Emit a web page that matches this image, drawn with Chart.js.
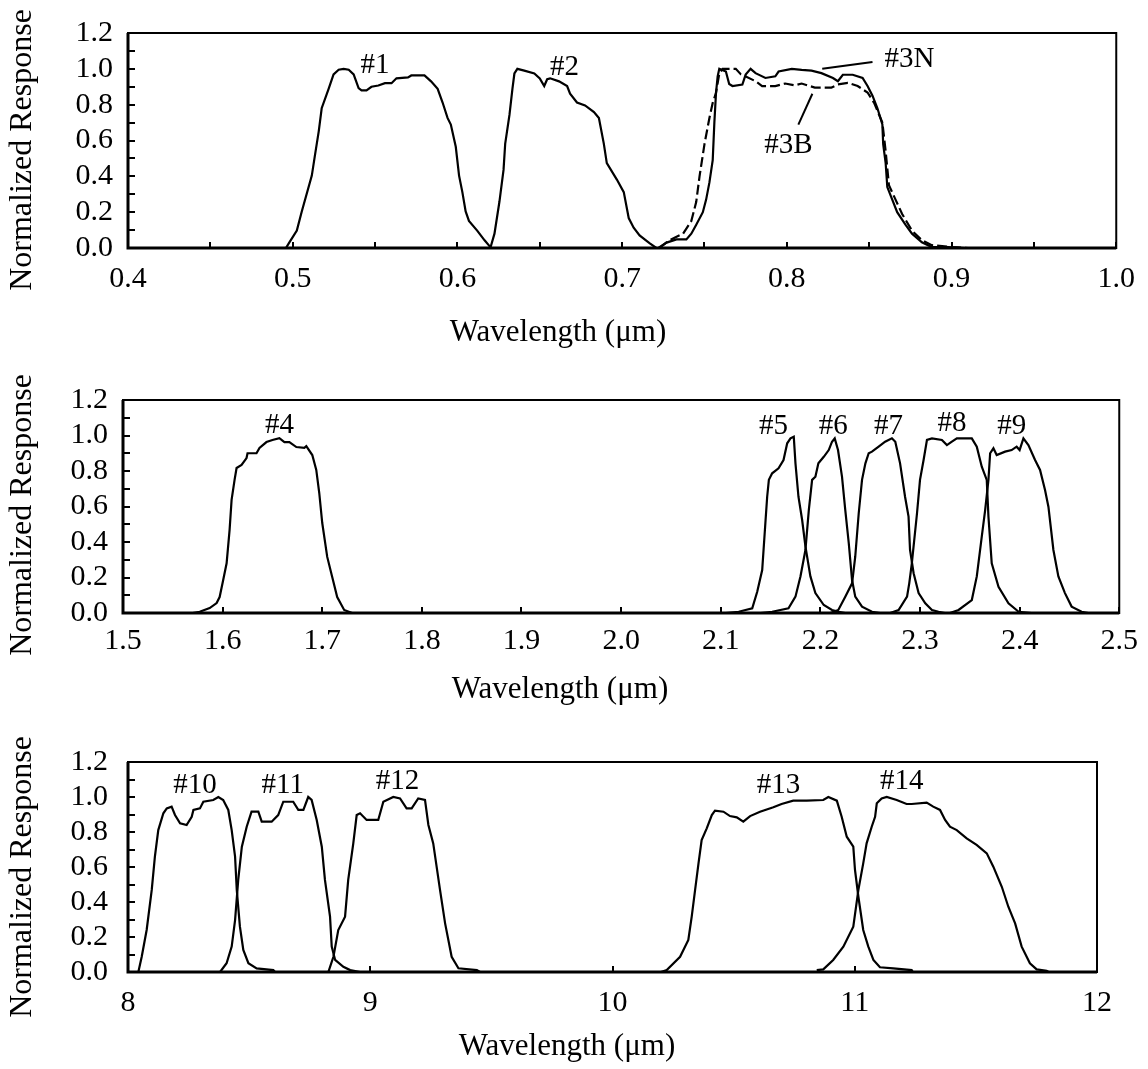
<!DOCTYPE html>
<html>
<head>
<meta charset="utf-8">
<script src="https://cdn.jsdelivr.net/npm/chart.js@4.4.0/dist/chart.umd.min.js"></script>
<style>
  body { margin: 0; background: #fff; }
  #wrap { position: relative; width: 1148px; height: 1069px; }
  canvas { position: absolute; left: 0; }
</style>
</head>
<body>
<div id="wrap">
  <canvas id="c1" width="1148" height="360" style="top:0"></canvas>
  <canvas id="c2" width="1148" height="360" style="top:360px"></canvas>
  <canvas id="c3" width="1148" height="349" style="top:720px"></canvas>
</div>
<script>
// Band responses, [wavelength (um), normalized response]

// VNIR
const band1 = [[0.4959,0],[0.4977,0.027],[0.5025,0.097],[0.5055,0.204],[0.5116,0.404],[0.5134,0.511],[0.5158,0.651],[0.5176,0.78],[0.5218,0.888],[0.5248,0.969],[0.5279,0.995],[0.5309,1.0],[0.534,0.995],[0.537,0.969],[0.540,0.893],[0.5418,0.88],[0.5448,0.88],[0.5478,0.90],[0.552,0.907],[0.556,0.92],[0.560,0.92],[0.563,0.947],[0.570,0.952],[0.572,0.963],[0.580,0.963],[0.584,0.93],[0.588,0.888],[0.591,0.812],[0.594,0.726],[0.596,0.689],[0.599,0.565],[0.601,0.404],[0.603,0.312],[0.605,0.204],[0.607,0.151],[0.612,0.097],[0.6165,0.043],[0.620,0.005]];
const band2 = [[0.620,0],[0.6225,0.08],[0.6255,0.258],[0.628,0.436],[0.629,0.581],[0.6316,0.743],[0.6334,0.888],[0.6346,0.974],[0.6364,1.0],[0.6406,0.99],[0.6467,0.974],[0.650,0.947],[0.6527,0.904],[0.6545,0.942],[0.6563,0.947],[0.6617,0.93],[0.6666,0.904],[0.6684,0.861],[0.6726,0.812],[0.6775,0.796],[0.6829,0.759],[0.6859,0.726],[0.6889,0.581],[0.6907,0.474],[0.6968,0.382],[0.701,0.312],[0.704,0.167],[0.707,0.113],[0.7106,0.07],[0.7166,0.027],[0.7208,0]];
const band3N = [[0.722,0],[0.727,0.03],[0.733,0.048],[0.739,0.048],[0.742,0.08],[0.745,0.13],[0.749,0.2],[0.751,0.27],[0.753,0.366],[0.755,0.49],[0.756,0.7],[0.757,0.866],[0.758,0.958],[0.759,1.0],[0.763,0.985],[0.765,0.915],[0.767,0.904],[0.773,0.912],[0.775,0.968],[0.778,1.0],[0.781,0.976],[0.787,0.949],[0.793,0.958],[0.795,0.985],[0.803,1.0],[0.809,0.994],[0.815,0.99],[0.821,0.976],[0.828,0.949],[0.831,0.931],[0.834,0.967],[0.840,0.967],[0.846,0.949],[0.849,0.904],[0.852,0.85],[0.855,0.78],[0.858,0.69],[0.8585,0.58],[0.86,0.474],[0.861,0.34],[0.864,0.27],[0.867,0.2],[0.872,0.13],[0.876,0.08],[0.882,0.032],[0.888,0.005],[0.898,0.005],[0.908,0]];
const band3B = [[0.7226,0],[0.7286,0.043],[0.737,0.08],[0.742,0.15],[0.745,0.258],[0.747,0.40],[0.750,0.58],[0.753,0.726],[0.755,0.81],[0.757,0.866],[0.759,0.974],[0.761,1.0],[0.769,1.0],[0.772,0.97],[0.781,0.931],[0.785,0.904],[0.793,0.904],[0.799,0.918],[0.805,0.908],[0.809,0.918],[0.817,0.895],[0.827,0.895],[0.831,0.913],[0.837,0.922],[0.843,0.904],[0.849,0.868],[0.853,0.81],[0.858,0.70],[0.86,0.54],[0.862,0.35],[0.866,0.27],[0.87,0.19],[0.876,0.097],[0.882,0.043],[0.888,0.016],[0.9,0.005],[0.91,0]];

// SWIR
const band4 = [[1.57,0],[1.577,0.007],[1.587,0.028],[1.594,0.056],[1.597,0.09],[1.6,0.17],[1.604,0.28],[1.607,0.468],[1.609,0.637],[1.612,0.75],[1.614,0.817],[1.619,0.834],[1.624,0.873],[1.625,0.9],[1.634,0.9],[1.637,0.93],[1.644,0.963],[1.65,0.975],[1.657,0.985],[1.662,0.963],[1.667,0.963],[1.674,0.935],[1.682,0.93],[1.684,0.94],[1.69,0.89],[1.694,0.806],[1.697,0.676],[1.7,0.507],[1.705,0.316],[1.71,0.203],[1.715,0.09],[1.722,0.017],[1.73,0]];
const band5 = [[2.105,0],[2.118,0.007],[2.1316,0.026],[2.1366,0.12],[2.1416,0.242],[2.145,0.524],[2.1466,0.655],[2.1483,0.75],[2.1516,0.787],[2.158,0.815],[2.163,0.862],[2.1667,0.956],[2.17,0.984],[2.1733,0.993],[2.175,0.843],[2.178,0.655],[2.1817,0.524],[2.185,0.375],[2.19,0.206],[2.195,0.112],[2.2034,0.045],[2.2117,0.017],[2.2184,0.007],[2.225,0]];
const band6 = [[2.14,0],[2.1516,0.007],[2.168,0.026],[2.175,0.092],[2.18,0.206],[2.185,0.355],[2.1884,0.58],[2.1917,0.75],[2.195,0.768],[2.198,0.843],[2.2034,0.88],[2.2084,0.918],[2.2117,0.965],[2.2144,0.984],[2.2177,0.918],[2.2217,0.768],[2.225,0.58],[2.2285,0.393],[2.2318,0.186],[2.235,0.092],[2.2418,0.036],[2.2518,0.007],[2.26,0]];
const band7 = [[2.21,0],[2.218,0.017],[2.225,0.092],[2.2318,0.167],[2.235,0.317],[2.2385,0.562],[2.2418,0.75],[2.2452,0.843],[2.2485,0.9],[2.2518,0.909],[2.2585,0.937],[2.265,0.965],[2.2718,0.984],[2.2752,0.965],[2.28,0.843],[2.285,0.655],[2.2885,0.543],[2.29,0.355],[2.2936,0.224],[2.2986,0.112],[2.3053,0.055],[2.312,0.017],[2.3186,0.007],[2.325,0]];
const band8 = [[2.27,0],[2.2785,0.017],[2.287,0.092],[2.2892,0.167],[2.2918,0.28],[2.297,0.562],[2.3,0.75],[2.3036,0.862],[2.307,0.975],[2.312,0.984],[2.322,0.975],[2.327,0.946],[2.332,0.965],[2.337,0.984],[2.352,0.984],[2.357,0.937],[2.362,0.824],[2.367,0.75],[2.3687,0.543],[2.372,0.28],[2.3788,0.148],[2.3888,0.055],[2.399,0.007],[2.412,0]];
const band9 = [[2.33,0],[2.3387,0.017],[2.352,0.073],[2.357,0.206],[2.362,0.43],[2.3654,0.58],[2.3687,0.75],[2.3704,0.9],[2.3737,0.928],[2.377,0.89],[2.3854,0.909],[2.392,0.918],[2.397,0.937],[2.4,0.918],[2.4038,0.984],[2.4088,0.946],[2.4155,0.862],[2.4205,0.806],[2.4255,0.693],[2.4289,0.599],[2.4339,0.355],[2.4389,0.206],[2.4455,0.112],[2.4522,0.036],[2.4622,0.007],[2.469,0]];

// TIR
const band10 = [[8.0427,0],[8.0566,0.087],[8.077,0.24],[8.098,0.469],[8.111,0.659],[8.125,0.811],[8.146,0.907],[8.16,0.935],[8.18,0.945],[8.194,0.897],[8.215,0.85],[8.242,0.84],[8.263,0.887],[8.27,0.926],[8.297,0.935],[8.311,0.973],[8.352,0.983],[8.373,1.0],[8.393,0.983],[8.414,0.926],[8.428,0.811],[8.442,0.659],[8.449,0.469],[8.462,0.259],[8.476,0.126],[8.497,0.05],[8.531,0.021],[8.6,0.011],[8.607,0]];
const band11 = [[8.38,0],[8.407,0.05],[8.428,0.145],[8.442,0.297],[8.455,0.526],[8.47,0.716],[8.49,0.83],[8.51,0.916],[8.538,0.916],[8.552,0.859],[8.593,0.859],[8.62,0.897],[8.641,0.973],[8.682,0.973],[8.703,0.926],[8.724,0.926],[8.744,1.0],[8.758,0.983],[8.779,0.869],[8.8,0.716],[8.813,0.526],[8.834,0.316],[8.841,0.145],[8.855,0.069],[8.889,0.03],[8.917,0.011],[8.958,0]];
const band12 = [[8.827,0],[8.848,0.087],[8.868,0.24],[8.896,0.316],[8.909,0.526],[8.93,0.735],[8.944,0.897],[8.958,0.907],[8.985,0.869],[9.033,0.869],[9.054,0.973],[9.095,1.0],[9.123,0.992],[9.15,0.935],[9.171,0.935],[9.198,0.992],[9.226,0.983],[9.24,0.84],[9.26,0.735],[9.288,0.469],[9.309,0.278],[9.336,0.087],[9.364,0.021],[9.44,0.011],[9.453,0]];
const band13 = [[10.2,0],[10.224,0.011],[10.279,0.087],[10.313,0.183],[10.327,0.316],[10.341,0.469],[10.355,0.621],[10.368,0.754],[10.389,0.821],[10.41,0.897],[10.423,0.922],[10.458,0.916],[10.485,0.891],[10.513,0.884],[10.54,0.859],[10.568,0.891],[10.609,0.916],[10.664,0.941],[10.698,0.96],[10.746,0.979],[10.802,0.979],[10.87,0.983],[10.891,1.0],[10.926,0.979],[10.946,0.887],[10.967,0.773],[10.994,0.716],[11.001,0.583],[11.015,0.43],[11.035,0.24],[11.056,0.145],[11.077,0.069],[11.104,0.027],[11.159,0.021],[11.235,0.011],[11.24,0]];
const band14 = [[10.843,0.011],[10.87,0.015],[10.911,0.069],[10.953,0.145],[10.994,0.259],[11.015,0.469],[11.035,0.621],[11.049,0.735],[11.07,0.83],[11.084,0.887],[11.091,0.964],[11.111,0.992],[11.132,1.0],[11.173,0.983],[11.214,0.96],[11.235,0.96],[11.297,0.968],[11.324,0.945],[11.352,0.926],[11.373,0.869],[11.393,0.83],[11.421,0.811],[11.462,0.764],[11.503,0.726],[11.545,0.678],[11.572,0.602],[11.607,0.487],[11.634,0.373],[11.662,0.278],[11.689,0.145],[11.723,0.05],[11.751,0.015],[11.792,0.007],[11.8,0]];

// band labels: [text, wavelength, response]
const vnirLabels = [['#1', 0.55, 1.02], ['#2', 0.665, 1.01], ['#3N', 0.8745, 1.05], ['#3B', 0.801, 0.57]];
const swirLabels = [['#4', 1.657, 1.059], ['#5', 2.153, 1.05], ['#6', 2.213, 1.05], ['#7', 2.2685, 1.05], ['#8', 2.332, 1.069], ['#9', 2.392, 1.05]];
const tirLabels = [['#10', 8.277, 1.069], ['#11', 8.639, 1.069], ['#12', 9.112, 1.088], ['#13', 10.685, 1.069], ['#14', 11.194, 1.088]];
// leader lines from label to curve: [x1, y1, x2, y2]
const vnirLeaders = [[0.852, 1.038, 0.8215, 1.0], [0.8155, 0.861, 0.807, 0.689]];

const SERIF = '"Liberation Serif", "Times New Roman", serif';
Chart.defaults.color = '#000';
Chart.defaults.font.family = SERIF;

const framePlugin = {
  id: 'frame',
  afterDatasetsDraw(chart, args, opts) {
    const { ctx, chartArea: a, scales: { x, y } } = chart;
    ctx.save();
    ctx.strokeStyle = '#000';
    ctx.fillStyle = '#000';

    // inward tick marks
    ctx.lineWidth = 2;
    ctx.beginPath();
    x.ticks.forEach(t => {
      const p = Math.round(x.getPixelForValue(t.value));
      ctx.moveTo(p, a.bottom);
      ctx.lineTo(p, a.bottom - 6);
    });
    y.ticks.forEach(t => {
      const p = Math.round(y.getPixelForValue(t.value));
      ctx.moveTo(a.left, p);
      ctx.lineTo(a.left + 7, p);
    });
    ctx.stroke();

    // plot frame
    ctx.lineWidth = 2;
    ctx.strokeRect(a.left, a.top, a.width, a.height);
    ctx.lineWidth = 3;
    ctx.beginPath();
    ctx.moveTo(a.left, a.top);
    ctx.lineTo(a.left, a.bottom);
    ctx.lineTo(a.right, a.bottom);
    ctx.stroke();

    // leader lines
    ctx.lineWidth = 2;
    (opts.leaders || []).forEach(l => {
      ctx.beginPath();
      ctx.moveTo(x.getPixelForValue(l[0]), y.getPixelForValue(l[1]));
      ctx.lineTo(x.getPixelForValue(l[2]), y.getPixelForValue(l[3]));
      ctx.stroke();
    });

    // band labels
    ctx.font = '29px ' + SERIF;
    ctx.textAlign = 'center';
    ctx.textBaseline = 'middle';
    opts.labels.forEach(l => {
      ctx.fillText(l[0], x.getPixelForValue(l[1]), y.getPixelForValue(l[2]));
    });

    // axis titles
    ctx.font = '31px ' + SERIF;
    ctx.fillText('Wavelength (\u03bcm)', opts.xTitle[0], opts.xTitle[1]);
    ctx.save();
    ctx.translate(opts.yTitle[0], opts.yTitle[1]);
    ctx.rotate(-Math.PI / 2);
    ctx.font = '32px ' + SERIF;
    ctx.fillText('Normalized Response', 0, 0);
    ctx.restore();

    ctx.restore();
  }
};

const makeChart = (id, cfg) => {
  const datasets = cfg.series.map(s => ({
    data: s.data,
    borderColor: '#000',
    borderWidth: 2.2,
    borderDash: s.dash || [],
    pointRadius: 0,
    tension: 0,
    fill: false
  }));
  return new Chart(document.getElementById(id), {
    type: 'line',
    data: { datasets },
    options: {
      responsive: false,
      animation: false,
      events: [],
      layout: { padding: { top: cfg.top, right: cfg.right, left: 0, bottom: 0 } },
      plugins: {
        legend: { display: false },
        tooltip: { enabled: false },
        frame: { labels: cfg.labels, leaders: cfg.leaders, xTitle: cfg.xTitle, yTitle: cfg.yTitle }
      },
      scales: {
        x: {
          type: 'linear',
          min: cfg.xMin,
          max: cfg.xMax,
          grid: { display: false, drawTicks: false },
          border: { display: false },
          ticks: {
            stepSize: cfg.xStep,
            autoSkip: false,
            maxRotation: 0,
            padding: cfg.xPad,
            font: { size: 30 },
            callback: cfg.xLabel
          },
          afterFit: s => { s.height = cfg.xHeight; }
        },
        y: {
          min: 0,
          max: 1.2,
          grid: { display: false, drawTicks: false },
          border: { display: false },
          ticks: {
            stepSize: 0.1,
            autoSkip: false,
            padding: cfg.yPad,
            font: { size: 30 },
            callback: v => (Math.round(v * 10) % 2 === 0 ? (Math.round(v * 10) / 10).toFixed(1) : '')
          },
          afterFit: s => { s.width = cfg.yWidth; }
        }
      }
    },
    plugins: [framePlugin]
  });
};

makeChart('c1', {
  series: [{ data: band1 }, { data: band2 }, { data: band3N }, { data: band3B, dash: [10, 4] }],
  labels: vnirLabels, leaders: vnirLeaders,
  xMin: 0.4, xMax: 1.0, xStep: 0.05,
  xLabel: v => (Math.round(v * 100) % 10 === 0 ? (Math.round(v * 100) / 100).toFixed(1) : ''),
  top: 25, right: 25, yWidth: 128, xHeight: 112, xPad: 13, yPad: 15,
  xTitle: [558, 333], yTitle: [23, 150]
});

makeChart('c2', {
  series: [band4, band5, band6, band7, band8, band9].map(d => ({ data: d })),
  labels: swirLabels, leaders: [],
  xMin: 1.5, xMax: 2.5, xStep: 0.1,
  xLabel: v => (Math.round(v * 10) / 10).toFixed(1),
  top: 40, right: 27, yWidth: 123, xHeight: 107, xPad: 10, yPad: 15,
  xTitle: [560, 330], yTitle: [23, 155]
});

makeChart('c3', {
  series: [band10, band11, band12, band13, band14].map(d => ({ data: d })),
  labels: tirLabels, leaders: [],
  xMin: 8, xMax: 12, xStep: 1,
  xLabel: v => String(Math.round(v)),
  top: 42, right: 51, yWidth: 128, xHeight: 97, xPad: 13, yPad: 20,
  xTitle: [567, 327], yTitle: [23, 157]
});
</script>
</body>
</html>
